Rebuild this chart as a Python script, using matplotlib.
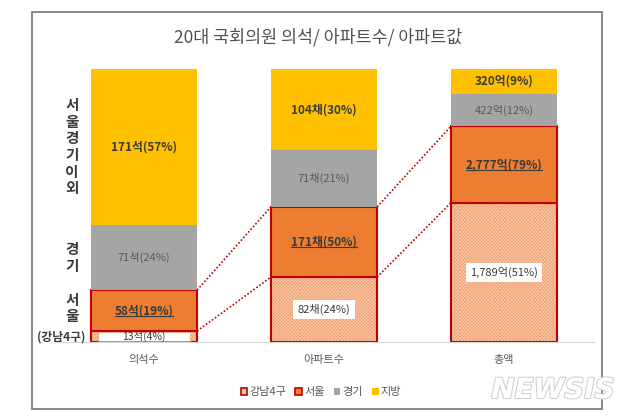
import matplotlib
matplotlib.use('Agg')
import matplotlib.pyplot as plt
from matplotlib.patches import Rectangle, Patch
from matplotlib.lines import Line2D
import matplotlib.patheffects as pe

plt.rcParams['font.family'] = ['Noto Sans CJK KR', 'DejaVu Sans']
plt.rcParams['hatch.linewidth'] = 0.45

# data
categories = ['의석수', '아파트수', '총액']
units = ['석', '채', '억']
gangnam = [13, 82, 1789]
gangnam_pct = [4, 24, 51]
seoul = [58, 171, 2777]
seoul_pct = [19, 50, 79]
gyeonggi = [71, 71, 422]
gyeonggi_pct = [24, 21, 12]
jibang = [171, 104, 320]
jibang_pct = [57, 30, 9]
legend_labels = ['강남4구', '서울', '경기', '지방']

YELLOW = '#FFC000'
GRAY = '#A5A5A5'
ORANGE = '#ED7D31'
PEACH = '#F8CBAD'
RED = '#C00000'
DARK = '#3A3A3A'
MID = '#595959'

fig = plt.figure(figsize=(6.4, 4.19), dpi=100)
ax = fig.add_axes([54 / 640, 77 / 419, 540 / 640, 273 / 419])
ax.set_xlim(-0.5, 2.5)
ax.set_ylim(0, 100)

w = 0.59
xs = list(range(len(categories)))

# heights: seoul share shown without gangnam, normalised to 100 per bar
seg = []
for i in xs:
    h = [gangnam_pct[i], seoul_pct[i] - gangnam_pct[i], gyeonggi_pct[i], jibang_pct[i]]
    s = sum(h)
    seg.append([v * 100 / s for v in h])

def lab(v, u, p):
    return f'{v:,}{u}({p}%)'

under = []
for i in xs:
    g, so, gy, jb = seg[i]
    # gangnam (hatched)
    ax.bar(i, g, w, color=PEACH, edgecolor='#F0A070', hatch='xxxxxxxxxx', linewidth=0)
    ax.bar(i, g, w, fill=False, edgecolor=RED, linewidth=1.5)
    # seoul
    ax.bar(i, so, w, bottom=g, color=ORANGE, edgecolor=RED, linewidth=1.5)
    # gyeonggi, jibang
    ax.bar(i, gy, w, bottom=g + so, color=GRAY, linewidth=0)
    ax.bar(i, jb, w, bottom=g + so + gy, color=YELLOW, linewidth=0)

    # labels
    if g < 8:
        ax.add_patch(Rectangle((i - w / 2 + 0.04, 0.3), w - 0.08, g - 0.6,
                               facecolor='white', edgecolor=ORANGE,
                               linestyle=':', linewidth=0.8, zorder=3))
        ax.text(i, g / 2, lab(gangnam[i], units[i], gangnam_pct[i]), ha='center', va='center',
                fontsize=7.5, color=DARK, zorder=4)
    else:
        ax.text(i, g / 2, lab(gangnam[i], units[i], gangnam_pct[i]), ha='center', va='center',
                fontsize=8, color=DARK, zorder=4,
                bbox=dict(facecolor='white', edgecolor='none', pad=3))
    t = ax.text(i, g + so / 2, lab(seoul[i], units[i], seoul_pct[i]), ha='center', va='center',
                fontsize=8.5, color=DARK, fontweight='bold')
    under.append(t)
    ax.text(i, g + so + gy / 2, lab(gyeonggi[i], units[i], gyeonggi_pct[i]), ha='center',
            va='center', fontsize=8, color=MID)
    ax.text(i, g + so + gy + jb / 2, lab(jibang[i], units[i], jibang_pct[i]), ha='center',
            va='center', fontsize=8.5, color=DARK, fontweight='bold')

# dotted connectors
for i in xs[:-1]:
    for k in (1, 2):
        y0 = sum(seg[i][:k])
        y1 = sum(seg[i + 1][:k])
        ax.plot([i + w / 2, i + 1 - w / 2], [y0, y1], color=RED, linestyle=(0, (1, 1.2)),
                linewidth=1.2, zorder=5)

ax.set_xticks(xs)
ax.set_xticklabels(categories, fontsize=8, color=MID)
ax.tick_params(axis='x', length=0, pad=9)
ax.set_yticks([])
for s in ['top', 'right', 'left']:
    ax.spines[s].set_visible(False)
ax.spines['bottom'].set_color('#D9D9D9')

# left side labels
s1 = seg[0]
lx = -0.5 + (72 - 54) / 180
ax.text(lx, s1[0] + s1[1] + s1[2] + s1[3] / 2, '\n'.join('서울경기이외'), ha='center', va='center',
        fontsize=10.5, fontweight='bold', color=DARK, linespacing=1.05)
ax.text(lx, s1[0] + s1[1] + s1[2] / 2, '\n'.join('경기'), ha='center', va='center',
        fontsize=10.5, fontweight='bold', color=DARK, linespacing=1.05)
ax.text(lx, s1[0] + s1[1] / 2 + 1, '\n'.join('서울'), ha='center', va='center',
        fontsize=10.5, fontweight='bold', color=DARK, linespacing=1.05)
ax.text(-0.5 + (61 - 54) / 180, s1[0] / 2, '(강남4구)', ha='center', va='center',
        fontsize=8.5, fontweight='bold', color=DARK, clip_on=False)

fig.text(318 / 640, 1 - 37 / 419, '20대 국회의원 의석/ 아파트수/ 아파트값', ha='center', va='center',
         fontsize=12.5, color='#505050')

handles = [Patch(facecolor=PEACH, edgecolor=RED, linewidth=1.2),
           Patch(facecolor=ORANGE, edgecolor=RED, linewidth=1.2),
           Patch(facecolor=GRAY, edgecolor='none'),
           Patch(facecolor=YELLOW, edgecolor='none')]
leg = fig.legend(handles, legend_labels, loc='center', bbox_to_anchor=(321 / 640, 1 - 392 / 419),
                 ncol=4, frameon=False, fontsize=8, handlelength=0.6, handleheight=0.6,
                 handletextpad=0.2, columnspacing=0.8)
for txt in leg.get_texts():
    txt.set_color(MID)

# frame
fig.add_artist(Rectangle((32 / 640, 1 - 409 / 419), (602 - 32) / 640, (409 - 12) / 419,
                         transform=fig.transFigure, fill=False, edgecolor='#7F7F7F', linewidth=1.3))

fig.text(553 / 640, 1 - 390 / 419, 'NEWSIS', ha='center', va='center', fontsize=20,
         fontweight='bold', style='italic', color='white', family='DejaVu Sans',
         path_effects=[pe.withStroke(linewidth=1.5, foreground='#D0D0D0')])

# underline seoul labels
fig.canvas.draw()
W, H = fig.bbox.width, fig.bbox.height
for t in under:
    bb = t.get_window_extent()
    y = (bb.y0 + 1.5) / H
    fig.add_artist(Line2D([bb.x0 / W, bb.x1 / W], [y, y], color=DARK, linewidth=0.8))

fig.savefig('out.png', dpi=100)
